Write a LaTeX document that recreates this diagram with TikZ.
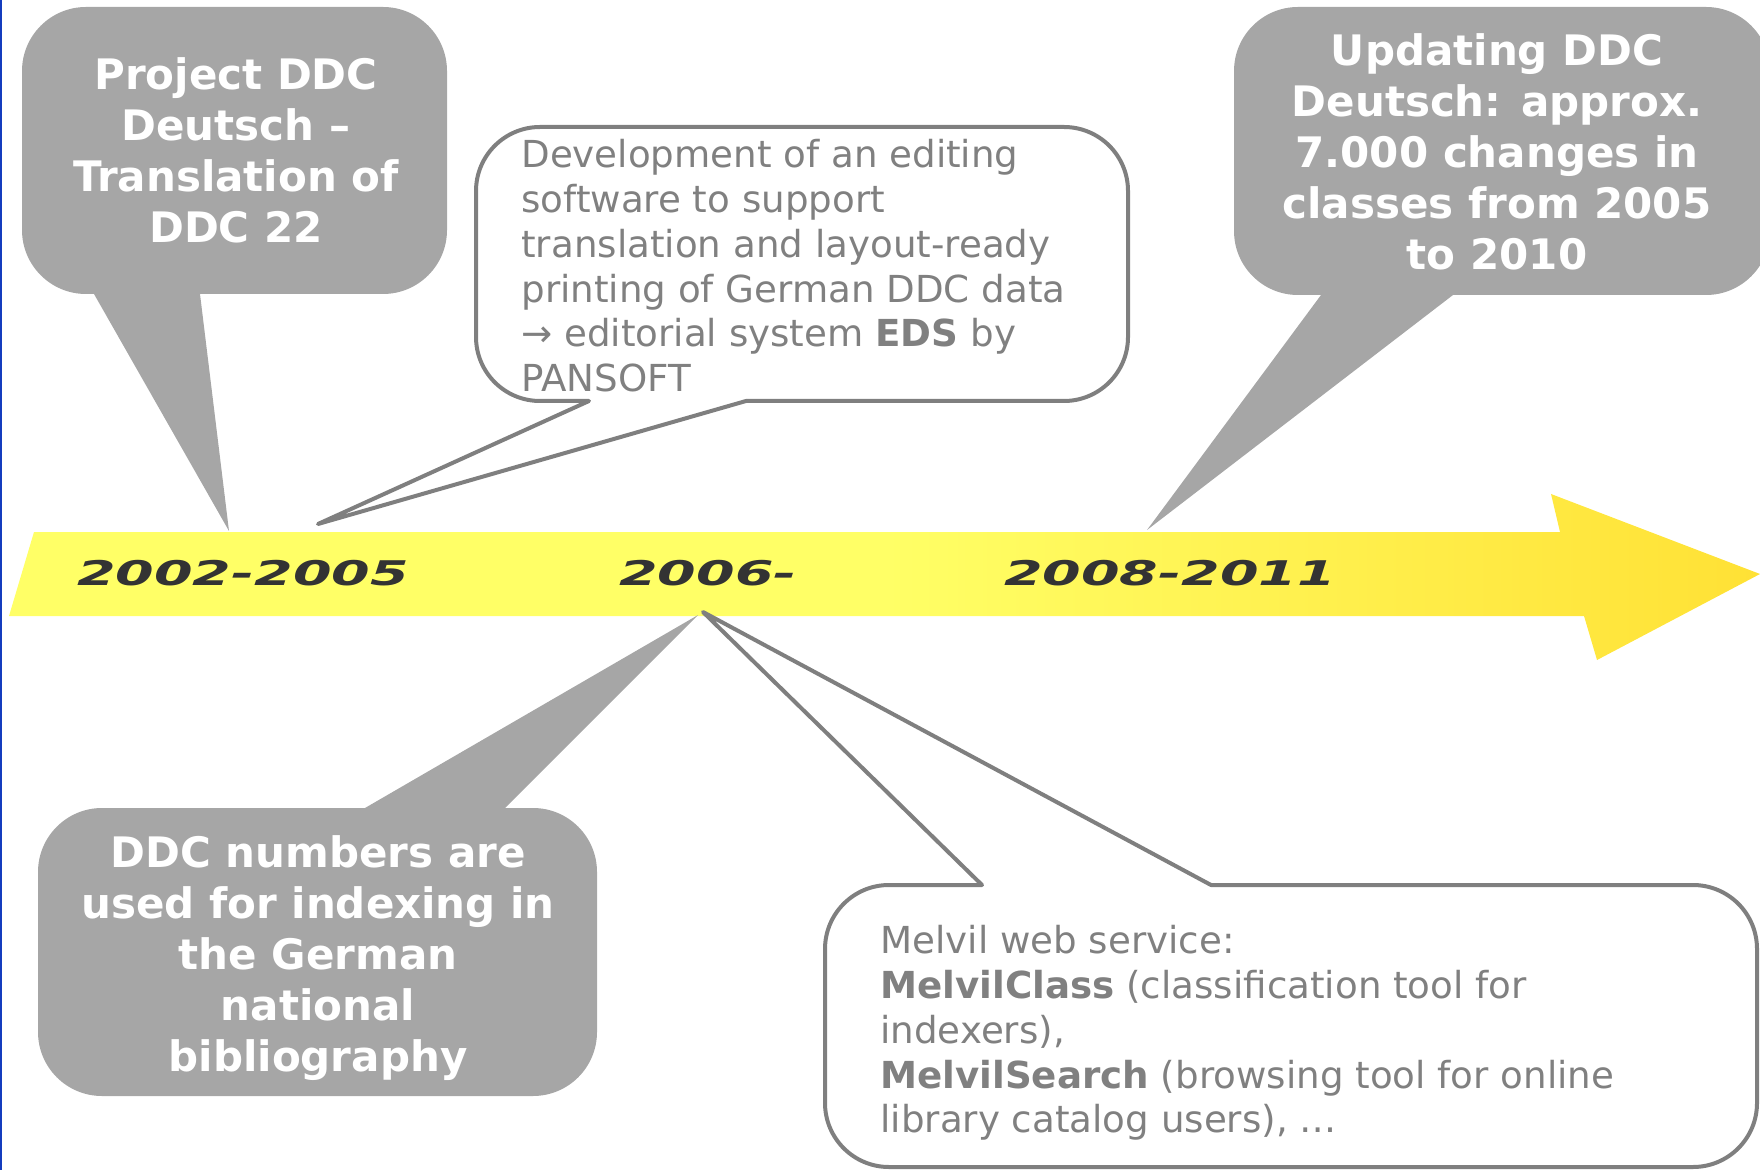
\documentclass[tikz,border=0pt]{standalone}
\usepackage{fontspec}
\setmainfont{DejaVu Sans}
\usepackage{tikz}
\definecolor{ddcgray}{RGB}{166,166,166}
\definecolor{ddcline}{RGB}{127,127,127}
\definecolor{ddctext}{RGB}{128,128,128}
\definecolor{ddcyear}{RGB}{51,51,51}
\definecolor{ddcyellow}{RGB}{255,255,102}
\definecolor{ddcgold}{RGB}{255,225,53}
\definecolor{ddcblue}{RGB}{20,60,190}
\tikzstyle{graybubble} = [fill=ddcgray]
\tikzstyle{linebubble} = [draw=ddcline, line width=2pt, line join=round]
\tikzstyle{bubtext} = [inner sep=0pt, align=center, text=white, font=\fontsize{21}{25.5}\selectfont\bfseries]
\tikzstyle{infotext} = [inner sep=0pt, align=left, text=ddctext, font=\fontsize{18.6}{22.4}\selectfont]
\tikzstyle{yearlabel} = [inner sep=0pt, text=ddcyear, xscale=1.63, font=\fontsize{17}{20}\selectfont\bfseries\itshape]

\begin{document}
\begin{tikzpicture}[x=0.5pt, y=-0.5pt]
    \useasboundingbox (0,0) rectangle (1760,1170);
    \clip (0,0) rectangle (1760,1170);
    \draw[ddcblue, line width=1pt] (1,0) -- (1,1170);

    % Timeline arrow
    \shade[left color=ddcyellow, right color=ddcgold, middle color=ddcyellow]
        (34,532) -- (1560,532) -- (1551,494) -- (1760,574) -- (1597,660) -- (1584,616) -- (9,616) -- cycle;
    \node[yearlabel] (y1) at (243,573) {2002-2005};
    \node[yearlabel] (y2) at (708,573) {2006-};
    \node[yearlabel] (y3) at (1170,573) {2008-2011};

    % Pointer tips
    \coordinate (tip1) at (229,531);
    \coordinate (tip2) at (318,524);
    \coordinate (tip3) at (1147,530);
    \coordinate (tip4) at (698,615);
    \coordinate (tip5) at (703,612);

    % Bubbles
    \fill[graybubble] (94,294) -- (tip1) -- (200,294) [rounded corners=32pt] -- (447,294) -- (447,7) -- (22,7) -- (22,294) [sharp corners] -- cycle;
    \draw[linebubble] (589,401) -- (tip2) -- (746,401) [rounded corners=32pt] -- (1128,401) -- (1128,127) -- (476,127) -- (476,401) [sharp corners] -- cycle;
    \fill[graybubble] (1321,295) -- (tip3) -- (1453,295) [rounded corners=32pt] -- (1770,295) -- (1770,7) -- (1234,7) -- (1234,295) [sharp corners] -- cycle;
    \fill[graybubble] (365,808) -- (tip4) -- (505,808) [rounded corners=32pt] -- (597,808) -- (597,1096) -- (38,1096) -- (38,808) [sharp corners] -- cycle;
    \draw[linebubble] (982,885) -- (tip5) -- (1211,885) [rounded corners=32pt] -- (1757,885) -- (1757,1167) -- (825,1167) -- (825,885) [sharp corners] -- cycle;

    % Texts
    \node[bubtext, anchor=north] (proj) at (236,57) {Project DDC\\Deutsch –\\Translation of\\DDC 22};
    \node[infotext, anchor=north west] (eds) at (521,139) {Development of an editing\\software to support\\translation and layout-ready\\printing of German DDC data\\→ editorial system \textbf{EDS} by\\PANSOFT};
    \node[bubtext, anchor=north] (upd) at (1497,33) {Updating DDC\\Deutsch: approx.\\7.000 changes in\\classes from 2005\\to 2010};
    \node[bubtext, anchor=north] (idx) at (318,835) {DDC numbers are\\used for indexing in\\the German\\national\\bibliography};
    \node[infotext, anchor=north west] (melvil) at (880,925) {Melvil web service:\\\textbf{MelvilClass} (classification tool for\\indexers),\\\textbf{MelvilSearch} (browsing tool for online\\library catalog users), \dots};
\end{tikzpicture}
\end{document}
